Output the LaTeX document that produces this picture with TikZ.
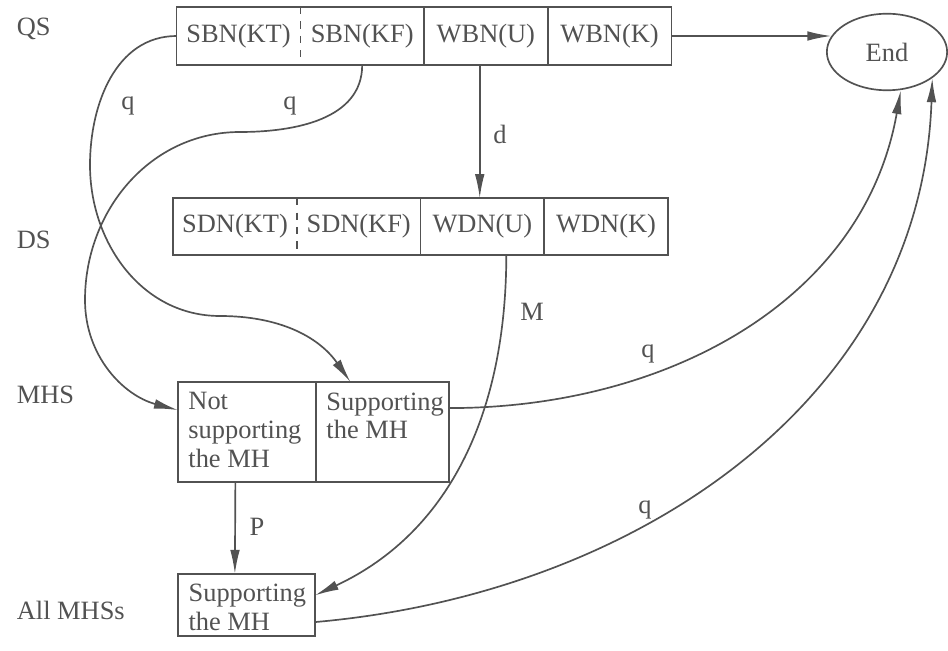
\documentclass[tikz,border=0pt]{standalone}
\usepackage{fontspec}
\setmainfont{Liberation Serif}
\usetikzlibrary{positioning, shapes.geometric, arrows.meta}
\definecolor{ink}{gray}{0.32}
\tikzset{
  cell/.style={minimum width=1.81cm, minimum height=0.85cm, inner sep=0pt, outer sep=0pt},
  boxcell/.style={draw, minimum height=1.46cm, inner sep=0pt, outer sep=0pt},
  arr/.style={-{Latex[length=10pt,width=4pt]}},
  rowlbl/.style={anchor=west, inner sep=0pt},
}

\begin{document}
\begin{tikzpicture}[x=0.01464cm, y=-0.01464cm, line width=0.7pt, color=ink,
    font=\fontsize{11}{12}\selectfont]
  \useasboundingbox (0,0) rectangle (948,651);

  % Zeilen
  \node[rowlbl] (lqs)  at (16,29)  {QS};
  \node[rowlbl] (lds)  at (16,240) {DS};
  \node[rowlbl] (lmhs) at (16,395) {MHS};
  \node[rowlbl] (lall) at (16,610) {All MHSs};

  % QS
  \node[cell] (sbnKT) at (238.5,36) {SBN(KT)};
  \node[cell, right=0pt of sbnKT] (sbnKF) {SBN(KF)};
  \node[cell, right=0pt of sbnKF] (wbnU) {WBN(U)};
  \node[cell, right=0pt of wbnU]  (wbnK) {WBN(K)};
  \draw (sbnKT.north west) rectangle (wbnK.south east);
  \draw[dashed] (sbnKT.north east) -- (sbnKT.south east);
  \draw (sbnKF.north east) -- (sbnKF.south east);
  \draw (wbnU.north east) -- (wbnU.south east);

  % DS
  \node[cell, minimum height=0.83cm] (sdnKT) at (235,226.5) {SDN(KT)};
  \node[cell, minimum height=0.83cm, right=0pt of sdnKT] (sdnKF) {SDN(KF)};
  \node[cell, minimum height=0.83cm, right=0pt of sdnKF] (wdnU) {WDN(U)};
  \node[cell, minimum height=0.83cm, right=0pt of wdnU]  (wdnK) {WDN(K)};
  \draw (sdnKT.north west) rectangle (wdnK.south east);
  \draw[dashed] (sdnKT.north east) -- (sdnKT.south east);
  \draw (sdnKF.north east) -- (sdnKF.south east);
  \draw (wdnU.north east) -- (wdnU.south east);

  % MHS
  \node[boxcell, minimum width=2.02cm] (ns) at (247,432) {};
  \node[boxcell, minimum width=1.95cm, right=0pt of ns] (sp) {};
  \node[anchor=north west, align=left, inner sep=4pt] at (ns.north west) {Not\\supporting\\the MH};
  \node[anchor=north west, align=left, inner sep=4pt] at (sp.north west) {Supporting\\the MH};

  % All MHSs
  \node[boxcell, minimum width=2.0cm, minimum height=0.91cm] (all) at (246.5,605) {};
  \node[anchor=north west, align=left, inner sep=4pt] at (all.north west) {Supporting\\the MH};

  \node[ellipse, draw, minimum width=1.76cm, minimum height=1.12cm, inner sep=0pt] (end) at (887,52) {End};

  \coordinate (bendA1) at (90,165);
  \coordinate (bendA2) at (220,316);
  \coordinate (bendB1) at (240,132);
  \coordinate (bendB2) at (85,300);

  \draw[arr] (wbnK.east) -- (wbnK.east -| end.164);
  \draw[arr] ([xshift=-0.09cm]wbnU.south) -- ([xshift=-0.09cm]wbnU.south |- wdnU.north);
  \draw[arr] (sbnKT.west) to[out=180,in=90] (bendA1) to[out=-90,in=180] (bendA2)
    to[out=0,in=125] ([xshift=-0.47cm]sp.north);
  \draw[arr] (sbnKF.south) to[out=-90,in=0] (bendB1) to[out=180,in=90] (bendB2)
    to[out=-90,in=165] ([yshift=0.32cm]ns.west);
  \draw[arr] ([xshift=0.35cm]wdnU.south) to[out=-90,in=25] ([yshift=0.14cm]all.east);
  \draw[arr] ([yshift=0.35cm]sp.east) to[out=0,in=-100] (end.-70);
  \draw[arr] ([yshift=-0.25cm]all.east) to[out=5,in=-92] (end.-30);
  \draw[arr] ([xshift=-0.17cm]ns.south) -- ([xshift=-0.17cm]all.north);

  \node at (128,106) {q};
  \node at (290,106) {q};
  \node at (500,134) {d};
  \node at (532,312) {M};
  \node at (648,354) {q};
  \node at (645,510) {q};
  \node at (257,527) {P};
\end{tikzpicture}
\end{document}
